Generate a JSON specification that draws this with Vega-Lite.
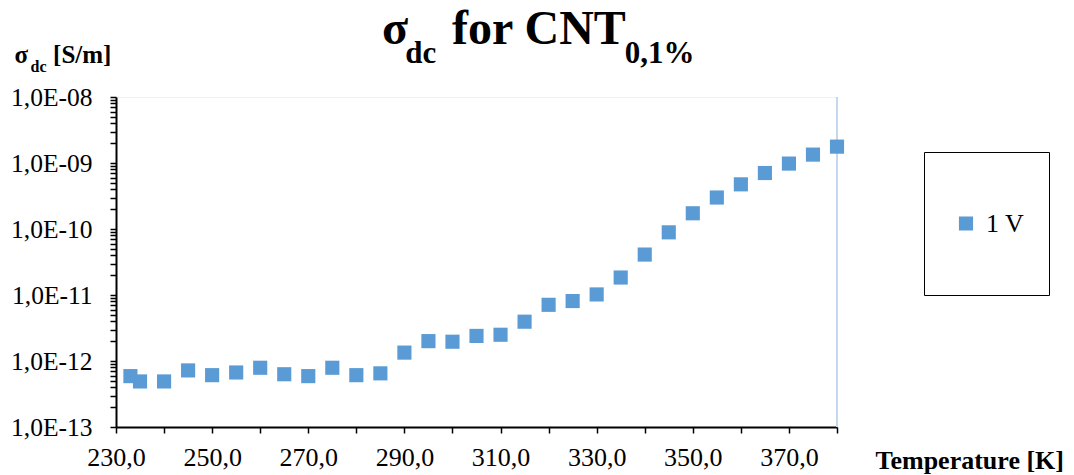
{
  "$schema": "https://vega.github.io/schema/vega-lite/v6.json",
  "width": 721,
  "height": 330,
  "autosize": {"type": "none"},
  "padding": {"left": 116, "top": 97, "right": 237, "bottom": 48},
  "background": "white",
  "title": {
    "text": "σ\u2002\u2006 for CNT",
    "subtitle": "\u200B\u2002\u2005dc\u2003\u2003\u2003\u2003\u2003\u2003\u200A0,1%",
    "anchor": "start",
    "frame": "group",
    "orient": "top",
    "dx": 266,
    "offset": -27,
    "font": "Liberation Serif",
    "fontSize": 48,
    "fontWeight": "bold",
    "color": "#000000",
    "subtitleFont": "Liberation Serif",
    "subtitleFontSize": 31,
    "subtitleFontWeight": "bold",
    "subtitleColor": "#000000",
    "subtitlePadding": -14.6
  },
  "data": {
    "values": [
      {"T": 233, "sigma": 5.9e-13, "series": "1 V"},
      {"T": 235, "sigma": 4.9e-13, "series": "1 V"},
      {"T": 240, "sigma": 4.9e-13, "series": "1 V"},
      {"T": 245, "sigma": 7.2e-13, "series": "1 V"},
      {"T": 250, "sigma": 6.1e-13, "series": "1 V"},
      {"T": 255, "sigma": 6.7e-13, "series": "1 V"},
      {"T": 260, "sigma": 7.9e-13, "series": "1 V"},
      {"T": 265, "sigma": 6.3e-13, "series": "1 V"},
      {"T": 270, "sigma": 5.9e-13, "series": "1 V"},
      {"T": 275, "sigma": 7.9e-13, "series": "1 V"},
      {"T": 280, "sigma": 6.1e-13, "series": "1 V"},
      {"T": 285, "sigma": 6.5e-13, "series": "1 V"},
      {"T": 290, "sigma": 1.34e-12, "series": "1 V"},
      {"T": 295, "sigma": 2.0e-12, "series": "1 V"},
      {"T": 300, "sigma": 1.96e-12, "series": "1 V"},
      {"T": 305, "sigma": 2.4e-12, "series": "1 V"},
      {"T": 310, "sigma": 2.5e-12, "series": "1 V"},
      {"T": 315, "sigma": 3.94e-12, "series": "1 V"},
      {"T": 320, "sigma": 7.1e-12, "series": "1 V"},
      {"T": 325, "sigma": 8.1e-12, "series": "1 V"},
      {"T": 330, "sigma": 1.02e-11, "series": "1 V"},
      {"T": 335, "sigma": 1.84e-11, "series": "1 V"},
      {"T": 340, "sigma": 4.1e-11, "series": "1 V"},
      {"T": 345, "sigma": 8.9e-11, "series": "1 V"},
      {"T": 350, "sigma": 1.73e-10, "series": "1 V"},
      {"T": 355, "sigma": 3.0e-10, "series": "1 V"},
      {"T": 360, "sigma": 4.75e-10, "series": "1 V"},
      {"T": 365, "sigma": 7.05e-10, "series": "1 V"},
      {"T": 370, "sigma": 9.8e-10, "series": "1 V"},
      {"T": 375, "sigma": 1.34e-9, "series": "1 V"},
      {"T": 380, "sigma": 1.77e-9, "series": "1 V"}
    ]
  },
  "layer": [
    {
      "data": {"values": [{}]},
      "mark": {"type": "rule", "color": "#c5d9ee", "strokeWidth": 2},
      "encoding": {
        "x": {
          "datum": 380,
          "type": "quantitative",
          "scale": {"domain": [230, 380], "nice": false, "zero": false},
          "axis": {
            "orient": "top",
            "ticks": false,
            "labels": false,
            "grid": false,
            "domain": true,
            "domainColor": "#edf2f9",
            "domainWidth": 1,
            "title": "dc",
            "titleFont": "Liberation Serif",
            "titleFontSize": 16,
            "titleFontWeight": "bold",
            "titleColor": "#000000",
            "titleAngle": 0,
            "titleAlign": "left",
            "titleBaseline": "alphabetic",
            "titleX": -86,
            "titleY": -26
          }
        }
      }
    },
    {
      "mark": {"type": "point", "shape": "square", "filled": true, "size": 200, "opacity": 1, "strokeWidth": 0},
      "encoding": {
        "x": {
          "field": "T",
          "type": "quantitative",
          "scale": {"domain": [230, 380], "nice": false, "zero": false},
          "axis": {
            "orient": "bottom",
            "values": [230, 240, 250, 260, 270, 280, 290, 300, 310, 320, 330, 340, 350, 360, 370, 380],
            "labelExpr": "(datum.value - 230) % 20 == 0 ? datum.value + ',0' : ''",
            "labelFont": "Liberation Serif",
            "labelFontSize": 26,
            "labelColor": "#000000",
            "labelPadding": 11,
            "labelOverlap": false,
            "labelFlush": false,
            "grid": false,
            "domainColor": "#000000",
            "domainWidth": 2,
            "tickColor": "#000000",
            "tickWidth": 1.5,
            "tickSize": 6,
            "title": "Temperature [K]",
            "titleFont": "Liberation Serif",
            "titleFontSize": 26,
            "titleFontWeight": "bold",
            "titleColor": "#000000",
            "titleAlign": "left",
            "titleBaseline": "alphabetic",
            "titleX": 759,
            "titleY": 41
          }
        },
        "y": {
          "field": "sigma",
          "type": "quantitative",
          "scale": {"type": "log", "domain": [1e-13, 1e-8], "nice": false},
          "axis": {
            "values": [1e-13, 2e-13, 3e-13, 4e-13, 5e-13, 6e-13, 7e-13, 8e-13, 9e-13,
                       1e-12, 2e-12, 3e-12, 4e-12, 5e-12, 6e-12, 7e-12, 8e-12, 9e-12,
                       1e-11, 2e-11, 3e-11, 4e-11, 5e-11, 6e-11, 7e-11, 8e-11, 9e-11,
                       1e-10, 2e-10, 3e-10, 4e-10, 5e-10, 6e-10, 7e-10, 8e-10, 9e-10,
                       1e-9, 2e-9, 3e-9, 4e-9, 5e-9, 6e-9, 7e-9, 8e-9, 9e-9, 1e-8],
            "labelExpr": "abs(log(datum.value)/LN10 - round(log(datum.value)/LN10)) < 0.001 ? '1,0E-' + (abs(round(log(datum.value)/LN10)) < 10 ? '0' : '') + abs(round(log(datum.value)/LN10)) : ''",
            "labelFont": "Liberation Serif",
            "labelFontSize": 25.5,
            "labelColor": "#000000",
            "labelPadding": 18,
            "labelOverlap": false,
            "labelFlush": false,
            "grid": false,
            "domainColor": "#000000",
            "domainWidth": 2,
            "tickColor": "#000000",
            "tickWidth": 1.5,
            "tickSize": 6,
            "title": "σ\u2002\u2002[S/m]",
            "titleFont": "Liberation Serif",
            "titleFontSize": 25,
            "titleFontWeight": "bold",
            "titleColor": "#000000",
            "titleAngle": 0,
            "titleAlign": "left",
            "titleBaseline": "alphabetic",
            "titleX": -102,
            "titleY": -35
          }
        },
        "color": {
          "field": "series",
          "type": "nominal",
          "scale": {"range": ["#5B9BD5"]},
          "legend": {
            "orient": "none",
            "legendX": 808,
            "legendY": 55,
            "title": null,
            "symbolType": "square",
            "symbolSize": 200,
            "symbolStrokeWidth": 0,
            "symbolOffset": 5,
            "labelOffset": 7,
            "labelFont": "Liberation Serif",
            "labelFontSize": 26,
            "labelColor": "#000000",
            "padding": 24,
            "clipHeight": 95,
            "strokeColor": "#000000",
            "fillColor": "white"
          }
        }
      }
    }
  ],
  "resolve": {"axis": {"x": "independent"}},
  "config": {
    "font": "Liberation Serif",
    "view": {"stroke": null}
  }
}
